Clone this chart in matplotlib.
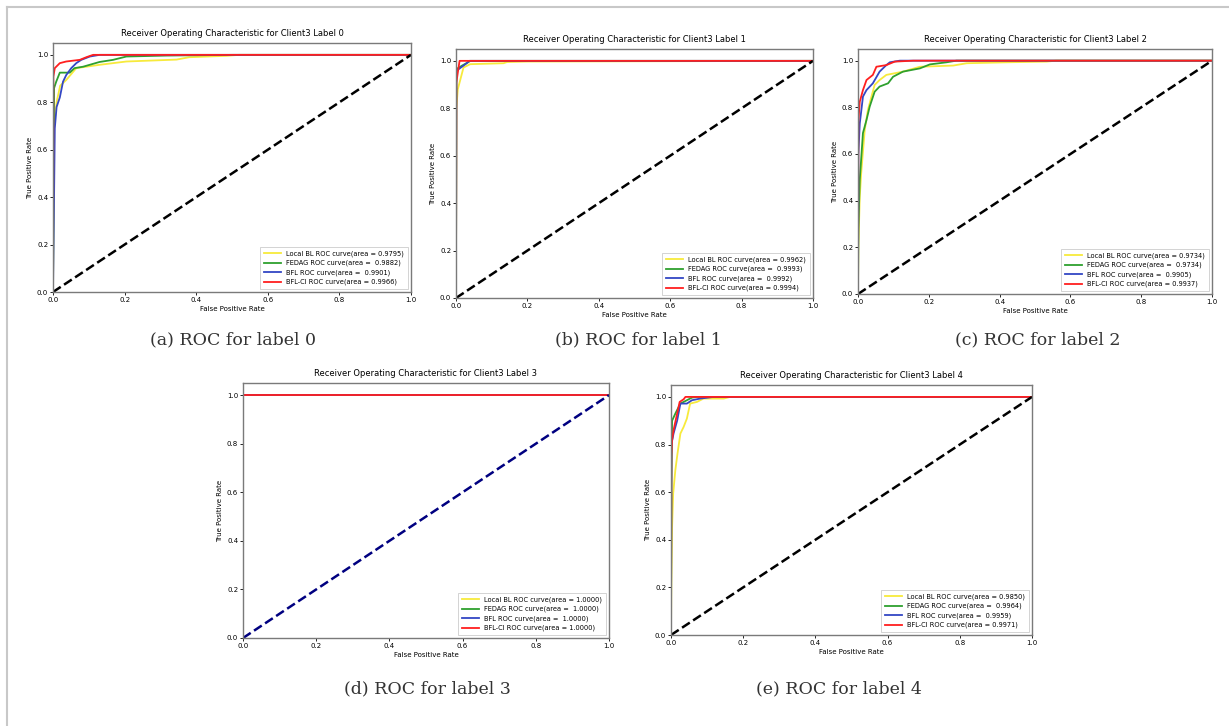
import matplotlib
matplotlib.use('Agg')
import matplotlib.pyplot as plt
from matplotlib.lines import Line2D

# ROC points (fpr, tpr), one list per model
models = ['Local BL', 'FEDAG', 'BFL', 'BFL-CI']
colors = ['#f7ea3c', '#2ea02e', '#3347c4', '#ff1f1f']

# label 0
l0_fpr = [[0, 0.003, 0.01, 0.02, 0.037, 0.065, 0.13, 0.205, 0.345, 0.38, 0.485, 0.52, 1],
          [0, 0.003, 0.009, 0.019, 0.047, 0.06, 0.084, 0.13, 0.168, 0.205, 0.317, 0.504, 1],
          [0, 0.003, 0.005, 0.01, 0.019, 0.028, 0.037, 0.051, 0.065, 0.079, 0.103, 0.13, 1],
          [0, 0.001, 0.005, 0.019, 0.037, 0.075, 0.093, 0.112, 1]]
l0_tpr = [[0, 0.70, 0.80, 0.87, 0.894, 0.944, 0.958, 0.972, 0.98, 0.99, 0.996, 1, 1],
          [0, 0.86, 0.887, 0.925, 0.925, 0.944, 0.95, 0.97, 0.979, 0.993, 0.997, 1, 1],
          [0, 0.41, 0.69, 0.78, 0.82, 0.887, 0.915, 0.944, 0.965, 0.979, 0.993, 1, 1],
          [0, 0.908, 0.944, 0.965, 0.972, 0.979, 0.99, 1, 1]]
l0_auc = [0.9795, 0.9882, 0.9901, 0.9966]

# label 1
l1_fpr = [[0, 0.001, 0.005, 0.012, 0.021, 0.04, 0.133, 0.143, 0.2, 1],
          [0, 0.001, 0.017, 0.035, 0.04, 1],
          [0, 0.001, 0.012, 0.03, 0.037, 1],
          [0, 0.001, 0.005, 0.01, 1]]
l1_tpr = [[0, 0.80, 0.88, 0.92, 0.972, 0.986, 0.99, 0.995, 0.997, 1],
          [0, 0.965, 0.98, 0.995, 1, 1],
          [0, 0.958, 0.97, 0.99, 1, 1],
          [0, 0.908, 0.95, 1, 1]]
l1_auc = [0.9962, 0.9993, 0.9992, 0.9994]

# label 2
l2_fpr = [[0, 0.001, 0.005, 0.009, 0.019, 0.028, 0.038, 0.047, 0.061, 0.08, 0.127, 0.175, 0.269, 0.307, 0.42, 0.533, 0.56, 1],
          [0, 0.001, 0.005, 0.014, 0.024, 0.033, 0.047, 0.061, 0.085, 0.099, 0.127, 0.175, 0.203, 0.25, 0.278, 1],
          [0, 0.001, 0.005, 0.014, 0.024, 0.042, 0.061, 0.08, 0.09, 0.118, 1],
          [0, 0.001, 0.005, 0.014, 0.024, 0.042, 0.052, 0.08, 0.104, 0.156, 1]]
l2_tpr = [[0, 0.20, 0.417, 0.517, 0.703, 0.789, 0.846, 0.896, 0.917, 0.939, 0.953, 0.974, 0.979, 0.989, 0.993, 0.996, 1, 1],
          [0, 0.28, 0.49, 0.69, 0.746, 0.803, 0.867, 0.889, 0.903, 0.931, 0.953, 0.967, 0.984, 0.993, 1, 1],
          [0, 0.60, 0.731, 0.846, 0.874, 0.903, 0.953, 0.981, 0.993, 1, 1],
          [0, 0.74, 0.824, 0.874, 0.917, 0.939, 0.974, 0.981, 0.996, 1, 1]]
l2_auc = [0.9734, 0.9734, 0.9905, 0.9937]

# label 3 (perfect)
l3_fpr = [[0, 0, 1], [0, 0, 1], [0, 0, 1], [0, 0, 1]]
l3_tpr = [[0, 1, 1], [0, 1, 1], [0, 1, 1], [0, 1, 1]]
l3_auc = [1.0, 1.0, 1.0, 1.0]

# label 4
l4_fpr = [[0, 0.001, 0.003, 0.006, 0.012, 0.018, 0.026, 0.035, 0.044, 0.053, 0.072, 0.09, 0.146, 0.164, 1],
          [0, 0.001, 0.003, 0.012, 0.026, 0.044, 0.058, 0.072, 1],
          [0, 0.001, 0.007, 0.017, 0.026, 0.044, 0.058, 0.081, 0.118, 1],
          [0, 0.001, 0.003, 0.007, 0.017, 0.024, 0.035, 0.04, 1]]
l4_tpr = [[0, 0.22, 0.455, 0.594, 0.692, 0.762, 0.846, 0.874, 0.909, 0.972, 0.979, 0.993, 0.993, 1, 1],
          [0, 0.60, 0.90, 0.93, 0.972, 0.986, 0.997, 1, 1],
          [0, 0.80, 0.846, 0.90, 0.972, 0.972, 0.986, 0.993, 1, 1],
          [0, 0.75, 0.818, 0.86, 0.93, 0.979, 0.99, 1, 1]]
l4_auc = [0.9850, 0.9964, 0.9959, 0.9971]

panels = [(l0_fpr, l0_tpr, l0_auc), (l1_fpr, l1_tpr, l1_auc), (l2_fpr, l2_tpr, l2_auc),
          (l3_fpr, l3_tpr, l3_auc), (l4_fpr, l4_tpr, l4_auc)]
captions = ['(a) ROC for label 0', '(b) ROC for label 1', '(c) ROC for label 2',
            '(d) ROC for label 3', '(e) ROC for label 4']

W, H = 1229, 726
# axes boxes in pixels: left, right, top, bottom
boxes = [(53, 411, 43, 292), (456, 813, 49, 298), (858, 1212, 49, 294),
         (243, 609, 383, 638), (671, 1032, 385, 635)]
cap_pos = [(233, 340), (638, 340), (1038, 340), (427, 689), (839, 689)]

fig = plt.figure(figsize=(W / 100, H / 100), dpi=100)

# light frame: only top and left edges are visible in the picture
for xs, ys in [([7, 7], [7, H]), ([7, W], [7, 7])]:
    fig.add_artist(Line2D([x / W for x in xs], [1 - y / H for y in ys], color='#c8c8c8', lw=1.5))

for i, (fpr, tpr, auc) in enumerate(panels):
    l, r, t, b = boxes[i]
    ax = fig.add_axes([l / W, 1 - b / H, (r - l) / W, (b - t) / H])
    for j in range(4):
        gap = ' ' if j in (1, 2) else ''
        ax.plot(fpr[j], tpr[j], color=colors[j], lw=1.3,
                label='%s ROC curve(area = %s%.4f)' % (models[j], gap, auc[j]))
    diag = 'navy' if i == 3 else 'k'
    ax.plot([0, 1], [0, 1], color=diag, lw=1.8, linestyle='--')
    ax.set_xlim([0.0, 1.0])
    ax.set_ylim([0.0, 1.05])
    ax.set_xlabel('False Positive Rate', fontsize=5, labelpad=2)
    ax.set_ylabel('True Positive Rate', fontsize=5, labelpad=3)
    ax.set_title('Receiver Operating Characteristic for Client3 Label %d' % i, fontsize=6, pad=5)
    ax.tick_params(labelsize=5, length=2, width=0.6, pad=1.5)
    for s in ax.spines.values():
        s.set_color('#7a7a7a')
        s.set_linewidth(1.0)
    leg = ax.legend(loc='lower right', fontsize=4.8, handlelength=2.6, borderpad=0.5,
                    labelspacing=0.45, fancybox=False, framealpha=1)
    leg.get_frame().set_linewidth(0.6)
    cx, cy = cap_pos[i]
    fig.text(cx / W, 1 - cy / H, captions[i], ha='center', va='center',
             fontsize=12.5, family='DejaVu Serif', color='#333333')

plt.savefig('out.png', dpi=100)
